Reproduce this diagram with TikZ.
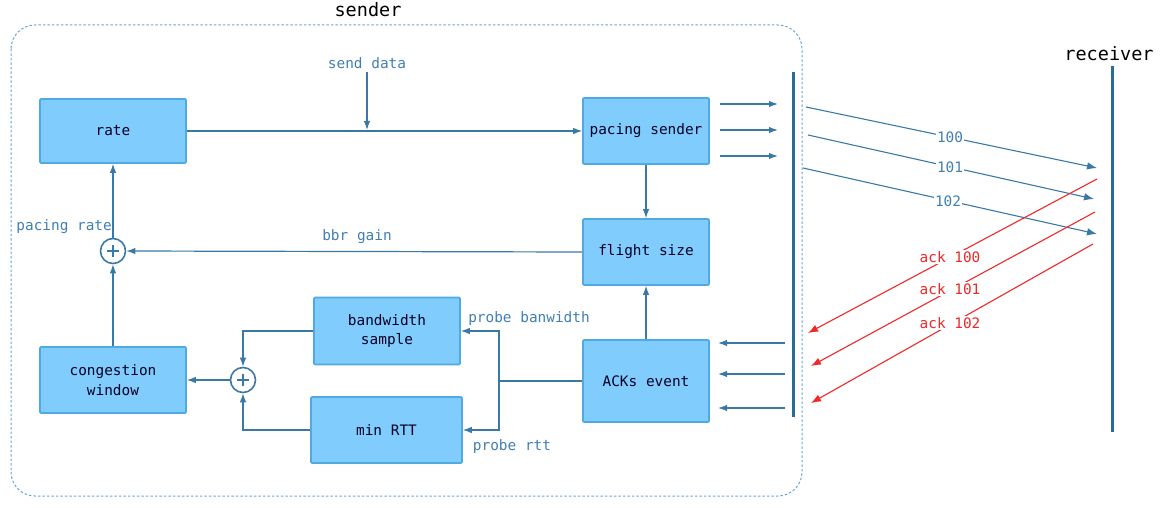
\documentclass[tikz,border=0pt]{standalone}
\usepackage{fontspec}
\setmainfont{DejaVu Sans Mono}
\usetikzlibrary{arrows.meta}
\definecolor{boxfill}{HTML}{80CCFC}
\definecolor{boxline}{HTML}{4FA9E2}
\definecolor{wire}{HTML}{3A79A6}
\definecolor{lbl}{HTML}{3F7FB5}
\definecolor{bar}{HTML}{2C6A98}
\definecolor{frame}{HTML}{6AA6D2}
\definecolor{ackred}{HTML}{F02828}
\begin{document}
\begin{tikzpicture}[x=1pt,y=-1pt,
  blk/.style={draw=boxline,fill=boxfill,line width=1.6pt,rounded corners=1pt,
    align=center,font=\fontsize{14.4}{19.5}\selectfont,text=black!85!blue,inner sep=0pt},
  sum/.style={circle,draw=wire,fill=white,line width=1.6pt,minimum size=25pt,inner sep=0pt},
  con/.style={draw=wire,line width=1.2pt,-{Latex[length=9pt,width=6.5pt]}},
  wirel/.style={draw=wire,line width=1.2pt},
  lab/.style={text=lbl,font=\fontsize{14.4}{15}\selectfont,inner sep=1pt},
  msg/.style={draw=wire,line width=1.1pt,-{Latex[length=10pt,width=7.5pt]}},
  ack/.style={draw=ackred,line width=1.1pt,-{Latex[length=10pt,width=7.5pt]}},
  msglab/.style={fill=white,text=lbl,font=\fontsize{14.4}{15}\selectfont,inner sep=1pt},
  acklab/.style={fill=white,text=ackred,font=\fontsize{14.4}{15}\selectfont,inner sep=1pt},
  title/.style={font=\fontsize{18.5}{20}\selectfont,text=black}]
\useasboundingbox (0,0) rectangle (1162,508);

% sender frame
\draw[frame,line width=1pt,dash pattern=on 2.5pt off 2pt,rounded corners=24pt]
  (11,25) rectangle (802,496);
\node[title] (sendert) at (368,10) {sender};
\node[title] (recvt) at (1109,54) {receiver};

% blocks
\node[blk,minimum width=146pt,minimum height=64pt] (rate) at (113,131) {rate};
\node[blk,minimum width=126pt,minimum height=66pt] (pace) at (646,131) {pacing sender};
\node[blk,minimum width=126pt,minimum height=66pt] (flight) at (646,252) {flight size};
\node[blk,minimum width=126pt,minimum height=82pt] (acks) at (646,381) {ACKs event};
\node[blk,minimum width=146pt,minimum height=67pt] (bw) at (387,331) {bandwidth\\sample};
\node[blk,minimum width=151pt,minimum height=66pt] (rtt) at (386.5,430) {min RTT};
\node[blk,minimum width=146pt,minimum height=66pt] (cwnd) at (113,380) {congestion\\window};

% summing junctions
\node[sum] (s1) at (113,251) {};
\draw[wire,line width=1.6pt] (s1.center) ++(-6,0) -- ++(12,0) (s1.center) ++(0,-6) -- ++(0,12);
\node[sum] (s2) at (243,380) {};
\draw[wire,line width=1.6pt] (s2.center) ++(-6,0) -- ++(12,0) (s2.center) ++(0,-6) -- ++(0,12);

% sender block connections
\draw[con] (rate.east) -- (pace.west);
\coordinate (sd) at (367,72);
\node[lab] (sdl) at (367,63) {send data};
\draw[con] (sd) -- (367,130);
\draw[con] (pace) -- (flight);
\draw[con] (acks) -- (flight);
\draw[con] (flight.west) -- (s1.east);
\node[lab] (bbr) at (357,237) {bbr gain};
\draw[con] (s1) -- (rate);
\node[lab,anchor=east] (pr) at (113,227) {pacing rate};
\draw[con] (cwnd) -- (s1);
\coordinate (fork) at (499,381);
\draw[wirel] (acks.west) -- (fork);
\draw[con] (fork) |- (bw.east);
\draw[con] (fork) |- (rtt.east);
\node[lab] (pbw) at (529,319) {probe banwidth};
\node[lab] (prtt) at (512,447) {probe rtt};
\draw[con] (bw.west) -| (s2.north);
\draw[con] (rtt.west) -| (s2.south);
\draw[con] (s2.west) -- (cwnd.east);

% timelines
\draw[bar,line width=3pt] (793,72) coordinate (sTop) -- (793,417) coordinate (sBot);
\draw[bar,line width=3pt] (1112,66) coordinate (rTop) -- (1112,432) coordinate (rBot);

% outgoing packets from the pacer
\foreach \y/\n in {104/a,130/b,156/c}{
  \coordinate (po\n) at (720,\y);
  \coordinate (pi\n) at (778,\y);
  \draw[con] (po\n) -- (pi\n);
}
% incoming acks to the event block
\foreach \y/\n in {343/a,374/b,408/c}{
  \coordinate (ao\n) at (785,\y);
  \coordinate (ai\n) at (718,\y);
  \draw[con] (ao\n) -- (ai\n);
}

% data packets
\coordinate (d1s) at (806,107); \coordinate (d1e) at (1097,168);
\coordinate (d2s) at (808,135); \coordinate (d2e) at (1094,199);
\coordinate (d3s) at (803,168); \coordinate (d3e) at (1097,234);
\draw[msg] (d1s) -- (d1e);
\draw[msg] (d2s) -- (d2e);
\draw[msg] (d3s) -- (d3e);
\node[msglab] (l100) at (950,137) {100};
\node[msglab] (l101) at (950,167) {101};
\node[msglab] (l102) at (948,201) {102};

% acknowledgements
\coordinate (a1s) at (1097,179); \coordinate (a1e) at (808,333);
\coordinate (a2s) at (1095,212); \coordinate (a2e) at (811,366);
\coordinate (a3s) at (1093,244); \coordinate (a3e) at (811,403);
\draw[ack] (a1s) -- (a1e);
\draw[ack] (a2s) -- (a2e);
\draw[ack] (a3s) -- (a3e);
\node[acklab] (k100) at (950,257) {ack 100};
\node[acklab] (k101) at (950,289) {ack 101};
\node[acklab] (k102) at (950,323) {ack 102};
\end{tikzpicture}
\end{document}
